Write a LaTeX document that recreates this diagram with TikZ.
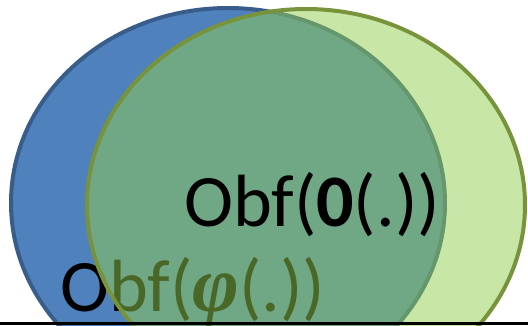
\documentclass[tikz,border=0pt]{standalone}
\usepackage{fontspec}
\setmainfont{Carlito}
\newfontfamily\phifont{Liberation Serif}
\definecolor{bluefill}{HTML}{4F81BD}
\definecolor{bluedraw}{HTML}{385D8A}
\definecolor{greenfill}{HTML}{92D050}
\definecolor{greendraw}{HTML}{77933C}
\tikzset{
  setA/.style={fill=bluefill, draw=bluedraw, line width=4pt},
  setB/.style={fill=greenfill, fill opacity=0.5, draw=greendraw, draw opacity=1, line width=4pt},
  biglabel/.style={anchor=base west, inner sep=0pt, font=\fontsize{74}{80}\selectfont, text=black, text opacity=1},
}
\begin{document}
\begin{tikzpicture}[x=1pt, y=-1pt]
\useasboundingbox (0,0) rectangle (528,325);
\begin{scope}
\clip (0,0) rectangle (528,325);
\draw[setA] (228,203) ellipse [x radius=217, y radius=195];
\node[biglabel] (phitext) at (60,311) {Obf({\phifont\bfseries\itshape\fontsize{80}{80}\selectfont φ}(.))};
\draw[setB] (306,205) ellipse [x radius=219, y radius=196];
\node[biglabel] (zerotext) at (184,226) {Obf(\textbf{0}(.))};
\end{scope}
\draw[line width=3pt, black] (0,323.5) -- (528,323.5);
\end{tikzpicture}
\end{document}
